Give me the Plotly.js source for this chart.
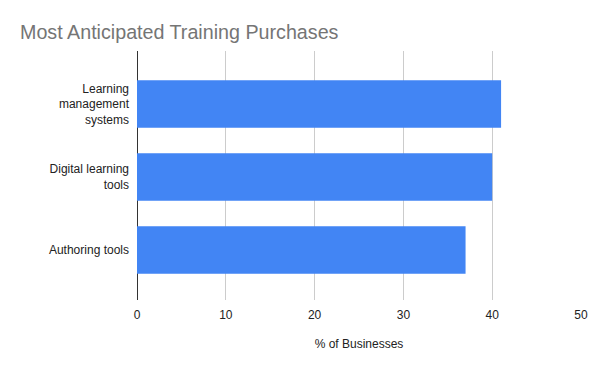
<!DOCTYPE html>
<html>
<head>
<meta charset="utf-8">
<script src="https://cdn.plot.ly/plotly-3.0.1.min.js"></script>
<style>html,body{margin:0;padding:0;background:#fff;}#chart{width:600px;height:371px;}</style>
</head>
<body>
<div id="chart"></div>
<script>
const categories = ["Learning<br>management<br>systems", "Digital learning<br>tools", "Authoring tools"];
const values = [41, 40, 37];
const xTicks = [0, 10, 20, 30, 40, 50];

const trace = {
  type: "bar",
  orientation: "h",
  y: categories,
  x: values,
  width: 0.65,
  marker: {color: "#4285F4"},
  hoverinfo: "x+y"
};

const FONT = "'Liberation Sans', Arial, sans-serif";

const layout = {
  width: 600,
  height: 371,
  margin: {l: 137, r: 19, t: 51, b: 71},
  paper_bgcolor: "#fff",
  plot_bgcolor: "#fff",
  font: {family: FONT, size: 12, color: "#222"},
  title: {
    text: "Most Anticipated Training Purchases",
    x: 20/600, xanchor: "left", xref: "container",
    y: 1 - 32/371, yanchor: "middle", yref: "container",
    font: {size: 19.7, color: "#757575", family: FONT}
  },
  showlegend: false,
  xaxis: {
    range: [0, 50],
    tickvals: xTicks,
    ticktext: xTicks.map(String),
    showgrid: true,
    gridcolor: "#cccccc",
    gridwidth: 1,
    zeroline: true,
    zerolinecolor: "#333333",
    zerolinewidth: 1,
    showline: false,
    ticks: "",
    ticklabelstandoff: 6,
    tickfont: {size: 12, color: "#222", family: FONT},
    title: {text: "% of Businesses", font: {size: 12, color: "#222", family: FONT}, standoff: 18}
  },
  yaxis: {
    type: "category",
    range: [2.685, -0.726],
    showgrid: false,
    zeroline: false,
    showline: false,
    ticks: "",
    ticklabelstandoff: 7,
    tickfont: {size: 12, color: "#222", family: FONT}
  }
};

Plotly.newPlot("chart", [trace], layout, {displayModeBar: false, staticPlot: true});
</script>
</body>
</html>
